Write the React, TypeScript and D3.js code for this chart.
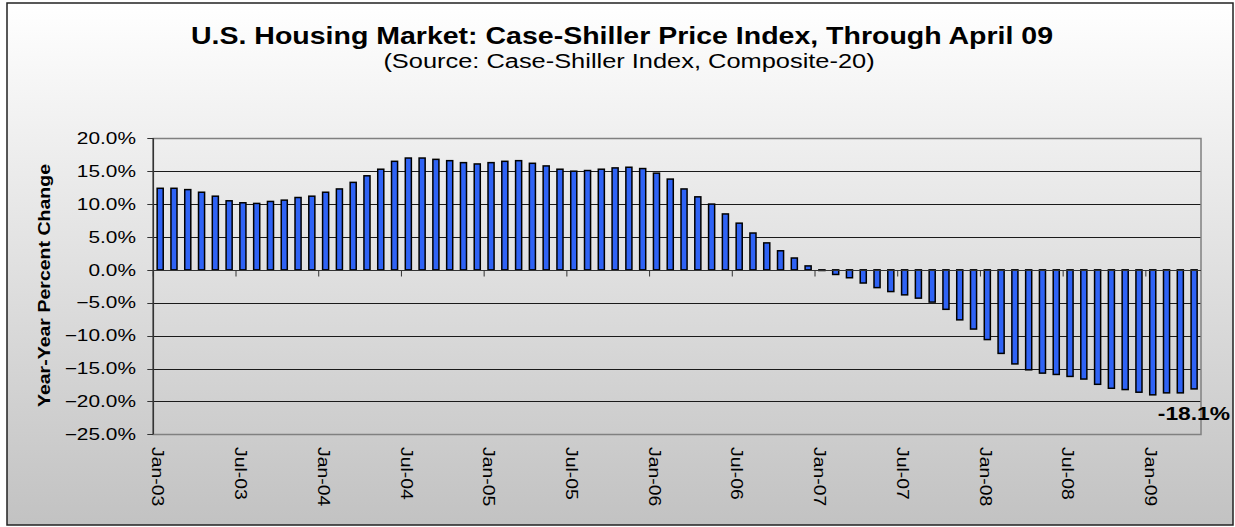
import React from 'react';
import * as d3 from 'd3';

const months: string[] = [
  'Jan-03','Feb-03','Mar-03','Apr-03','May-03','Jun-03','Jul-03','Aug-03','Sep-03','Oct-03','Nov-03','Dec-03',
  'Jan-04','Feb-04','Mar-04','Apr-04','May-04','Jun-04','Jul-04','Aug-04','Sep-04','Oct-04','Nov-04','Dec-04',
  'Jan-05','Feb-05','Mar-05','Apr-05','May-05','Jun-05','Jul-05','Aug-05','Sep-05','Oct-05','Nov-05','Dec-05',
  'Jan-06','Feb-06','Mar-06','Apr-06','May-06','Jun-06','Jul-06','Aug-06','Sep-06','Oct-06','Nov-06','Dec-06',
  'Jan-07','Feb-07','Mar-07','Apr-07','May-07','Jun-07','Jul-07','Aug-07','Sep-07','Oct-07','Nov-07','Dec-07',
  'Jan-08','Feb-08','Mar-08','Apr-08','May-08','Jun-08','Jul-08','Aug-08','Sep-08','Oct-08','Nov-08','Dec-08',
  'Jan-09','Feb-09','Mar-09','Apr-09',
];

const values: number[] = [
  12.4, 12.4, 12.2, 11.8, 11.2, 10.5, 10.2, 10.1, 10.4, 10.6, 11.0, 11.2,
  11.8, 12.3, 13.3, 14.3, 15.3, 16.5, 17.0, 17.0, 16.8, 16.6, 16.3, 16.1,
  16.3, 16.5, 16.6, 16.2, 15.8, 15.3, 15.0, 15.1, 15.3, 15.5, 15.6, 15.4,
  14.7, 13.8, 12.3, 11.1, 10.0, 8.5, 7.1, 5.6, 4.1, 2.9, 1.8, 0.6,
  -0.1, -0.7, -1.2, -2.0, -2.7, -3.3, -3.8, -4.3, -4.9, -6.0, -7.6, -9.0,
  -10.6, -12.7, -14.3, -15.2, -15.7, -15.9, -16.2, -16.6, -17.4, -18.0, -18.2, -18.6,
  -19.0, -18.7, -18.7, -18.1,
];

const xTickLabels: string[] = [
  'Jan-03','Jul-03','Jan-04','Jul-04','Jan-05','Jul-05','Jan-06',
  'Jul-06','Jan-07','Jul-07','Jan-08','Jul-08','Jan-09',
];

const yTickValues: number[] = [-25, -20, -15, -10, -5, 0, 5, 10, 15, 20];

const title = 'U.S. Housing Market: Case-Shiller Price Index, Through April 09';
const subtitle = '(Source: Case-Shiller Index, Composite-20)';
const yAxisTitle = 'Year-Year Percent Change';
const lastLabel = '-18.1%';

const FONT = '"Liberation Sans", Arial, Helvetica, sans-serif';

export default function App() {
  const W = 1235;
  const H = 527;
  const L = 153.3, R = 1201, T = 138.3, B = 434.3;

  const x = d3.scaleBand<string>().domain(months).range([L, R]).paddingInner(0.56).paddingOuter(0.28);
  const y = d3.scaleLinear().domain([-25, 20]).range([B, T]);
  const step = x.step();
  const bw = x.bandwidth();
  const fmt = d3.format('.1f');
  const crisp = (v: number) => Math.round(v) + 0.5;
  const y0 = crisp(y(0));

  return (
    <svg width={W} height={H} style={{ position: 'absolute', left: 0, top: 0, background: '#fff' }}>
      <defs>
        <linearGradient id="bg" x1="0" y1="0" x2="0" y2="1">
          <stop offset="0%" stopColor="#ffffff" />
          <stop offset="100%" stopColor="#c2c2c2" />
        </linearGradient>
      </defs>
      <rect x={7} y={3} width={1226} height={522} fill="url(#bg)" stroke="#222" strokeWidth={1.5} />

      {/* titles */}
      <text transform={`translate(622,44) scale(1.24,1)`} textAnchor="middle" fontFamily={FONT}
        fontWeight="bold" fontSize={23} fill="#000">{title}</text>
      <text transform={`translate(629,68) scale(1.27,1)`} textAnchor="middle" fontFamily={FONT}
        fontSize={20} fill="#000">{subtitle}</text>

      {/* gridlines */}
      {yTickValues.filter(v => v !== 0 && v !== 20 && v !== -25).map(v => (
        <line key={'g' + v} x1={L} x2={R} y1={crisp(y(v))} y2={crisp(y(v))} stroke="#1a1a1a" strokeWidth={1} />
      ))}
      {/* plot border */}
      <rect x={L} y={crisp(y(20))} width={R - L} height={crisp(y(-25)) - crisp(y(20))} fill="none" stroke="#808080" strokeWidth={1.5} />

      {/* x ticks */}
      {xTickLabels.map(lab => {
        const bx = (x(lab) as number) - (step - bw) / 2;
        return <line key={'xt' + lab} x1={bx} x2={bx} y1={y0} y2={y0 + 6} stroke="#333" strokeWidth={1} />;
      })}

      {/* bars */}
      {months.map((m, i) => {
        const v = values[i];
        const top = y(Math.max(v, 0));
        const h = Math.abs(y(v) - y(0));
        return (
          <rect key={m} x={x(m) as number} y={top} width={bw} height={h}
            fill="#2f63f5" stroke="#000" strokeWidth={1.5} />
        );
      })}

      {/* axes lines */}
      <line x1={L} x2={R} y1={y0} y2={y0} stroke="#333" strokeWidth={1} />
      <line x1={L} x2={L} y1={T} y2={B} stroke="#333" strokeWidth={1.5} />

      {/* y ticks and labels */}
      {yTickValues.map(v => (
        <g key={'yt' + v}>
          <line x1={L - 6} x2={L} y1={crisp(y(v))} y2={crisp(y(v))} stroke="#333" strokeWidth={1} />
          <text transform={`translate(136,${y(v)}) scale(1.28,1)`} dy="0.35em" textAnchor="end"
            fontFamily={FONT} fontSize={16.3} fill="#000">{fmt(v) + '%'}</text>
        </g>
      ))}

      {/* x labels */}
      {xTickLabels.map(lab => {
        const cx = (x(lab) as number) + bw / 2 - 2;
        return (
          <text key={'xl' + lab} transform={`translate(${cx},447) rotate(90) scale(1.19,1)`} dy="0.35em"
            textAnchor="start" fontFamily={FONT} fontSize={16.3} fill="#000">{lab}</text>
        );
      })}

      {/* y axis title */}
      <text transform={`translate(49.5,285.5) rotate(-90) scale(1.15,1)`} textAnchor="middle"
        fontFamily={FONT} fontWeight="bold" fontSize={17} fill="#000">{yAxisTitle}</text>

      {/* last value label */}
      <text transform={`translate(1230,420) scale(1.2,1)`} textAnchor="end" fontFamily={FONT}
        fontWeight="bold" fontSize={19} fill="#000">{lastLabel}</text>
    </svg>
  );
}
